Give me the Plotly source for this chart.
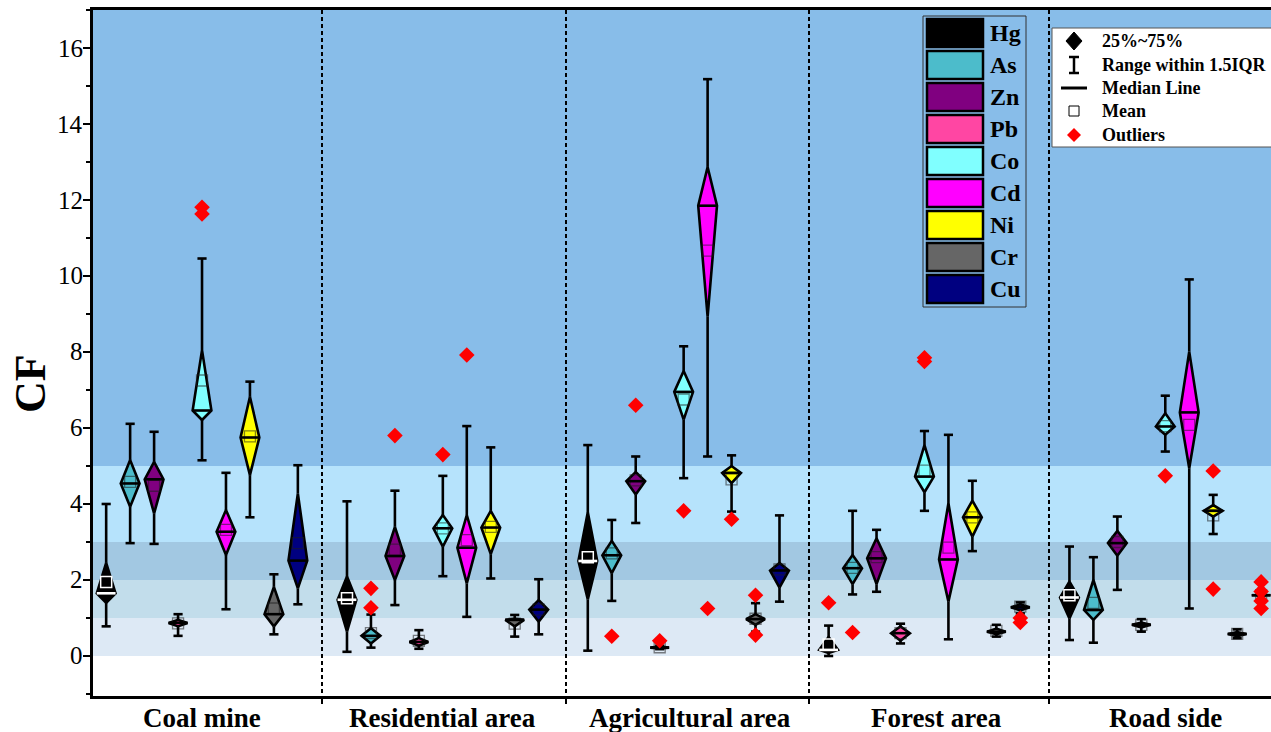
import plotly.graph_objects as go

# ---------------- data ----------------
SITES = ["Coal mine", "Residential area", "Agricultural area", "Forest area", "Road side"]
ELEMENTS = ["Hg", "As", "Zn", "Pb", "Co", "Cd", "Ni", "Cr", "Cu"]
COLORS = ["#000000", "#4CBCCB", "#800080", "#FF46A3", "#80FFFF",
          "#FF00FF", "#FFFF00", "#666666", "#000080"]
Y_TICKS = [0, 2, 4, 6, 8, 10, 12, 14, 16]

# rows = sites, columns = elements (Hg, As, Zn, Pb, Co, Cd, Ni, Cr, Cu)
LOW = [
    [0.78, 2.97, 2.95, 0.53, 5.15, 1.23, 3.65, 0.57, 1.36],
    [0.11, 0.22, 1.34, 0.19, 2.10, 1.03, 2.04, 0.51, 0.57],
    [0.14, 1.45, 3.50, 0.18, 4.68, 5.25, 3.80, 0.64, 1.43],
    [0.00, 1.62, 1.69, 0.33, 3.82, 0.44, 2.76, 0.51, 1.12],
    [0.42, 0.35, 1.74, 0.64, 5.38, 1.25, 3.21, 0.47, 1.60],
]
Q1 = [
    [1.40, 3.93, 3.75, 0.78, 6.21, 2.66, 4.76, 0.78, 1.78],
    [0.64, 0.33, 2.00, 0.27, 2.88, 1.91, 2.68, 0.78, 0.90],
    [1.49, 2.18, 4.25, 0.20, 6.22, 8.93, 4.55, 0.82, 1.80],
    [0.08, 1.89, 1.89, 0.40, 4.31, 1.43, 3.14, 0.57, 1.20],
    [0.99, 0.95, 2.64, 0.75, 5.82, 4.94, 3.67, 0.52, 1.60],
]
MEDIAN = [
    [1.65, 4.54, 4.65, 0.87, 6.46, 3.27, 5.75, 1.10, 2.51],
    [1.48, 0.53, 2.63, 0.37, 3.36, 2.85, 3.38, 0.95, 1.22],
    [2.50, 2.65, 4.60, 0.22, 6.95, 11.85, 4.82, 0.97, 2.25],
    [0.16, 2.31, 2.57, 0.60, 4.72, 2.54, 3.65, 0.64, 1.28],
    [1.54, 1.21, 2.97, 0.82, 6.04, 6.41, 3.82, 0.58, 1.60],
]
Q3 = [
    [2.45, 5.16, 5.11, 0.95, 8.05, 3.84, 6.82, 1.82, 4.28],
    [2.09, 0.73, 3.40, 0.47, 3.71, 3.71, 3.82, 0.98, 1.47],
    [3.78, 3.03, 4.84, 0.25, 7.50, 12.87, 5.00, 1.10, 2.45],
    [0.50, 2.66, 3.10, 0.78, 5.55, 4.02, 4.09, 0.72, 1.36],
    [1.96, 2.00, 3.29, 0.88, 6.39, 8.01, 3.97, 0.63, 1.60],
]
HIGH = [
    [4.00, 6.11, 5.90, 1.10, 10.46, 4.82, 7.22, 2.15, 5.02],
    [4.07, 1.09, 4.35, 0.68, 4.74, 6.05, 5.49, 1.08, 2.02],
    [5.55, 3.58, 5.25, 0.27, 8.15, 15.18, 5.28, 1.39, 3.70],
    [0.80, 3.82, 3.32, 0.85, 5.92, 5.82, 4.61, 0.82, 1.41],
    [2.88, 2.60, 3.67, 0.97, 6.85, 9.91, 4.24, 0.70, 1.60],
]
MEAN = [
    [1.95, 4.58, 4.48, 0.86, 7.25, 3.32, 5.78, 1.25, 2.97],
    [1.52, 0.60, 2.80, 0.40, 3.36, 3.05, 3.40, 0.85, 1.22],
    [2.60, 2.70, 4.62, 0.23, 6.75, 10.67, 4.65, 0.98, 2.28],
    [0.30, 2.32, 2.60, 0.60, 4.88, 2.85, 3.65, 0.66, 1.30],
    [1.60, 1.40, 3.00, 0.82, 6.05, 6.08, 3.70, 0.58, 1.60],
]
# (site index, element index, value)
OUTLIERS = [
    (0, 4, 11.81), (0, 4, 11.63),
    (1, 1, 1.78), (1, 1, 1.27), (1, 2, 5.80), (1, 4, 5.30), (1, 5, 7.92),
    (2, 1, 0.52), (2, 2, 6.60), (2, 3, 0.40), (2, 4, 3.82), (2, 5, 1.25),
    (2, 6, 3.60), (2, 7, 1.60), (2, 7, 0.55),
    (3, 0, 1.40), (3, 1, 0.62), (3, 4, 7.85), (3, 4, 7.75), (3, 8, 1.00), (3, 8, 0.88),
    (4, 4, 4.74), (4, 6, 4.87), (4, 6, 1.76),
    (4, 8, 1.95), (4, 8, 1.70), (4, 8, 1.45), (4, 8, 1.25),
]
# background CF classes (lower, upper, colour)
BANDS = [(0, 1, "#DDE9F5"), (1, 2, "#C2DDEB"), (2, 3, "#A2C8E2"),
         (3, 5, "#B6E3FC"), (5, 17, "#88BDE9")]

# ---------------- layout constants ----------------
FONT = "Liberation Serif"
STEP = 0.0995     # spacing of boxes inside a site group
HW = 0.039        # diamond half width
CAP = 0.019       # whisker cap half width
SEP_X = [0.497, 1.51, 2.52, 3.519]
LABEL_X = [0.0, 1.0, 2.025, 3.05, 4.0]
W, H = 1271, 732
ML, MR, MT, MB = 93, 0, 10, 36
PW, PH = W - ML - MR, H - MT - MB


def xp(px):
    return (px - ML) / PW


def yp(py):
    return (H - MB - py) / PH


fig = go.Figure()

wx, wy, cx, cy = [], [], [], []
mdx_b, mdy_b, mdx_w, mdy_w = [], [], [], []
mnx_c, mny_c, mnx_w, mny_w = [], [], [], []
for s in range(len(SITES)):
    for k in range(len(ELEMENTS)):
        x0 = s + (k - 4) * STEP
        lo, q1, md, q3, hi = LOW[s][k], Q1[s][k], MEDIAN[s][k], Q3[s][k], HIGH[s][k]
        fig.add_trace(go.Scatter(
            x=[x0, x0 - HW, x0, x0 + HW, x0],
            y=[q1, md, q3, md, q1],
            mode="lines", fill="toself", fillcolor=COLORS[k],
            line=dict(color="black", width=2.6),
            hoverinfo="skip", showlegend=False))
        wx += [x0, x0, None, x0, x0, None]
        wy += [lo, q1, None, q3, hi, None]
        cx += [x0 - CAP, x0 + CAP, None, x0 - CAP, x0 + CAP, None]
        cy += [lo, lo, None, hi, hi, None]
        if k == 0:
            mdx_w += [x0 - HW, x0 + HW, None]
            mdy_w += [md, md, None]
            mnx_w.append(x0)
            mny_w.append(MEAN[s][k])
        else:
            mdx_b += [x0 - HW, x0 + HW, None]
            mdy_b += [md, md, None]
            mnx_c.append(x0)
            mny_c.append(MEAN[s][k])

fig.add_trace(go.Scatter(x=mnx_c, y=mny_c, mode="markers",
                         marker=dict(symbol="square-open", size=11,
                                     color="rgba(30,30,30,0.55)", line=dict(width=1.3)),
                         hoverinfo="skip", showlegend=False))
fig.add_trace(go.Scatter(x=mnx_w, y=mny_w, mode="markers",
                         marker=dict(symbol="square-open", size=11, color="white",
                                     line=dict(width=1.5)),
                         hoverinfo="skip", showlegend=False))
fig.add_trace(go.Scatter(x=mdx_b, y=mdy_b, mode="lines",
                         line=dict(color="black", width=2.6),
                         hoverinfo="skip", showlegend=False))
fig.add_trace(go.Scatter(x=mdx_w, y=mdy_w, mode="lines",
                         line=dict(color="white", width=2.6),
                         hoverinfo="skip", showlegend=False))
fig.add_trace(go.Scatter(x=wx, y=wy, mode="lines",
                         line=dict(color="black", width=2.6),
                         hoverinfo="skip", showlegend=False))
fig.add_trace(go.Scatter(x=cx, y=cy, mode="lines",
                         line=dict(color="black", width=2.6),
                         hoverinfo="skip", showlegend=False))
fig.add_trace(go.Scatter(
    x=[o[0] + (o[1] - 4) * STEP for o in OUTLIERS],
    y=[o[2] for o in OUTLIERS], mode="markers",
    marker=dict(symbol="diamond", size=12, color="#FF0000", line=dict(width=0)),
    hoverinfo="skip", showlegend=False))

shapes = []
for lo, hi, col in BANDS:
    shapes.append(dict(type="rect", xref="paper", yref="y", x0=0, x1=1, y0=lo, y1=hi,
                       fillcolor=col, line=dict(width=0), layer="below"))

annotations = []
# ----- element legend -----
shapes.append(dict(type="rect", xref="paper", yref="paper",
                   x0=xp(923), x1=xp(1026), y0=yp(16), y1=yp(307),
                   line=dict(color="#333333", width=1), fillcolor="rgba(0,0,0,0)", layer="above"))
for i, (el, col) in enumerate(zip(ELEMENTS, COLORS)):
    top = 19 + i * 32
    shapes.append(dict(type="rect", xref="paper", yref="paper",
                       x0=xp(927), x1=xp(983), y0=yp(top), y1=yp(top + 28),
                       fillcolor=col, line=dict(color="black", width=2.5), layer="above"))
    annotations.append(dict(xref="paper", yref="paper", x=xp(988), y=yp(top + 14),
                            text="<b>%s</b>" % el, showarrow=False, xanchor="left",
                            yanchor="middle",
                            font=dict(family=FONT, size=24, color="black")))

# ----- statistic legend -----
shapes.append(dict(type="rect", xref="paper", yref="paper",
                   x0=xp(1052), x1=1.02, y0=yp(28), y1=yp(147),
                   fillcolor="white", line=dict(color="#555555", width=1), layer="above"))
sx = 1074
rows = [41, 65, 88, 111, 135]


def ppath(points):
    return "M " + " L ".join("%f,%f" % (xp(a), yp(b)) for a, b in points) + " Z"


shapes.append(dict(type="path", xref="paper", yref="paper",
                   path=ppath([(sx, rows[0] - 9), (sx + 8, rows[0]), (sx, rows[0] + 9), (sx - 8, rows[0])]),
                   fillcolor="black", line=dict(color="black", width=1), layer="above"))
for seg in [((sx, rows[1] - 8), (sx, rows[1] + 8)), ((sx - 5, rows[1] - 8), (sx + 5, rows[1] - 8)),
            ((sx - 5, rows[1] + 8), (sx + 5, rows[1] + 8)), ((sx - 13, rows[2]), (sx + 13, rows[2]))]:
    shapes.append(dict(type="line", xref="paper", yref="paper",
                       x0=xp(seg[0][0]), y0=yp(seg[0][1]), x1=xp(seg[1][0]), y1=yp(seg[1][1]),
                       line=dict(color="black", width=3 if seg[0][1] == rows[2] else 2.5),
                       layer="above"))
shapes.append(dict(type="rect", xref="paper", yref="paper",
                   x0=xp(sx - 5), x1=xp(sx + 5), y0=yp(rows[3] - 5), y1=yp(rows[3] + 5),
                   fillcolor="white", line=dict(color="black", width=1), layer="above"))
shapes.append(dict(type="path", xref="paper", yref="paper",
                   path=ppath([(sx, rows[4] - 7), (sx + 7, rows[4]), (sx, rows[4] + 7), (sx - 7, rows[4])]),
                   fillcolor="#FF0000", line=dict(width=0), layer="above"))
for r, t in zip(rows, ["25%~75%", "Range within 1.5IQR", "Median Line", "Mean", "Outliers"]):
    annotations.append(dict(xref="paper", yref="paper", x=xp(1100), y=yp(r),
                            text="<b>%s</b>" % t, showarrow=False, xanchor="left",
                            yanchor="middle",
                            font=dict(family=FONT, size=18, color="black")))

# ----- axis labels -----
for lx, name in zip(LABEL_X, SITES):
    annotations.append(dict(xref="x", yref="paper", x=lx, y=yp(718),
                            text="<b>%s</b>" % name, showarrow=False,
                            xanchor="center", yanchor="middle",
                            font=dict(family=FONT, size=27, color="black")))
for v in Y_TICKS:
    annotations.append(dict(xref="paper", yref="y", x=xp(85), y=v,
                            text=str(v), showarrow=False,
                            xanchor="right", yanchor="middle",
                            font=dict(family=FONT, size=25, color="black")))
annotations.append(dict(xref="paper", yref="paper", x=xp(30), y=yp(384),
                        text="<b>CF</b>", textangle=-90, showarrow=False,
                        xanchor="center", yanchor="middle",
                        font=dict(family=FONT, size=44, color="black")))

fig.update_layout(
    width=W, height=H,
    font=dict(family=FONT, color="black"),
    margin=dict(l=ML, r=MR, t=MT, b=MB, pad=0),
    paper_bgcolor="white", plot_bgcolor="white",
    shapes=shapes, annotations=annotations,
    showlegend=False,
)
fig.update_xaxes(range=[-0.4527, 4.439], showline=True, linewidth=3, linecolor="black",
                 mirror=True, ticks="", showticklabels=False, showgrid=False, zeroline=False,
                 minor=dict(tickmode="array", tickvals=SEP_X, ticks="outside", ticklen=5,
                            tickwidth=1.5, tickcolor="black", showgrid=True,
                            gridcolor="black", gridwidth=1.5, griddash="4px,3px"))
fig.update_yaxes(range=[-1.053, 17.0], showline=True, linewidth=3, linecolor="black",
                 ticks="outside", ticklen=7, tickwidth=2, tickcolor="black",
                 tickmode="array", tickvals=Y_TICKS, showticklabels=False,
                 showgrid=False, zeroline=False,
                 minor=dict(dtick=1, tick0=0, ticks="outside", ticklen=4, tickwidth=2,
                            tickcolor="black", showgrid=False))

fig.write_html("out.html")
